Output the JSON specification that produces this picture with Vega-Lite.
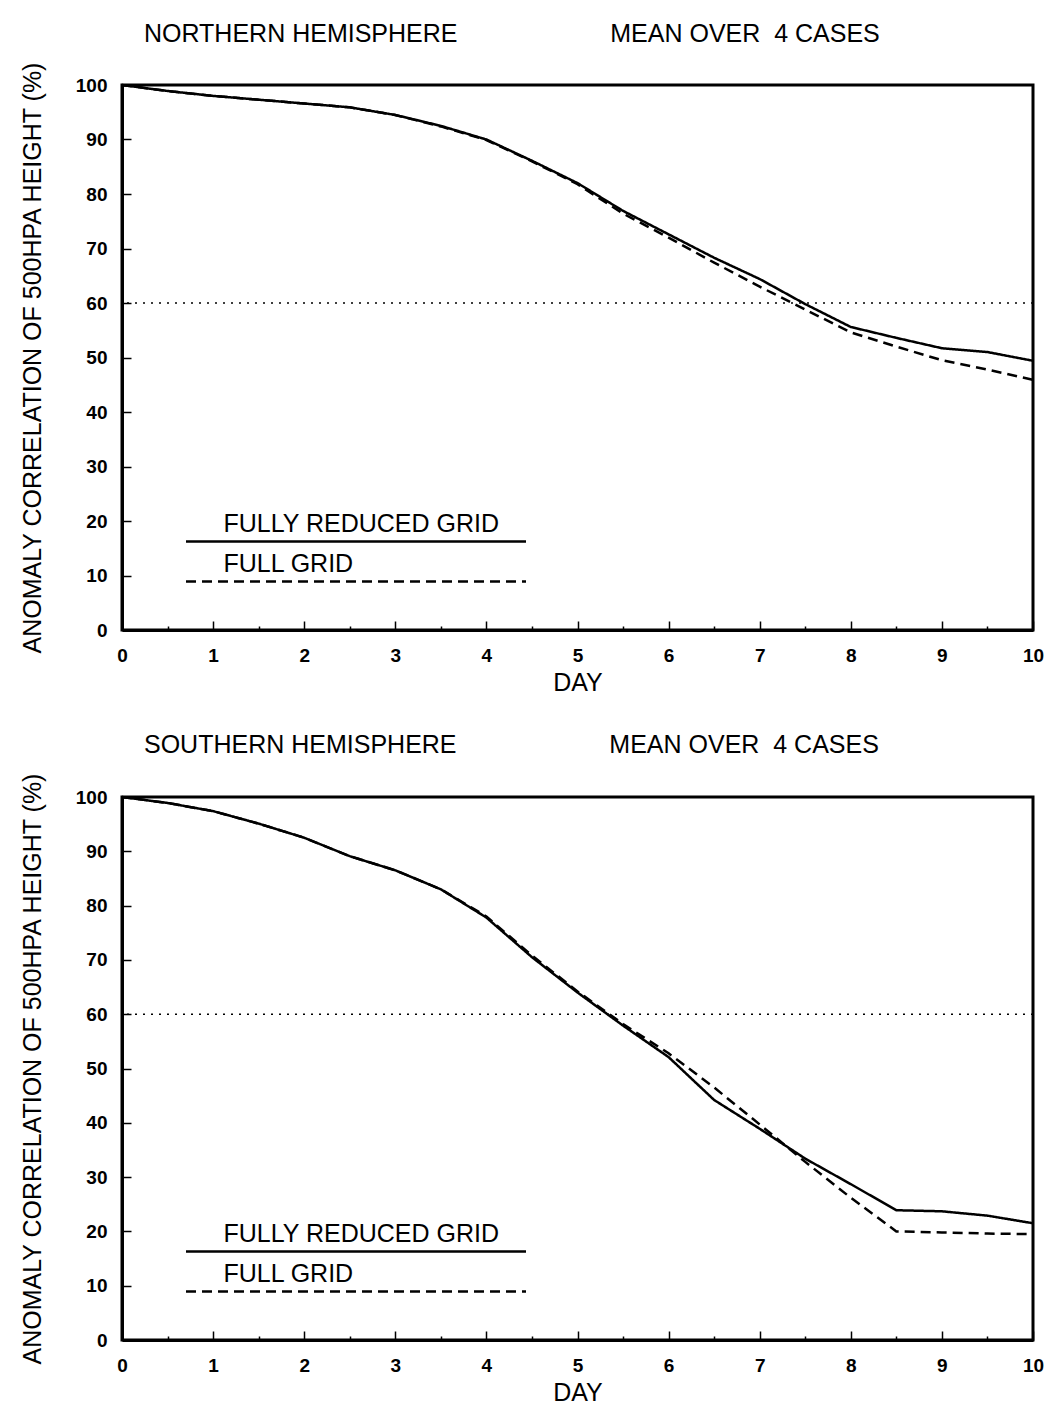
{
  "$schema": "https://vega.github.io/schema/vega-lite/v6.json",
  "background": "white",
  "padding": {"left": 18, "top": 20, "right": 5, "bottom": 0},
  "spacing": 34,
  "config": {
    "font": "Liberation Sans",
    "view": {"stroke": "black", "strokeWidth": 3},
    "title": {"color": "black"},
    "axis": {"labelColor": "black", "titleColor": "black", "domainColor": "black", "tickColor": "black"}
  },
  "datasets": {
    "north": [
      {"day": 0, "value": 100, "grid": "FULLY REDUCED GRID"},
      {"day": 0.5, "value": 98.9, "grid": "FULLY REDUCED GRID"},
      {"day": 1, "value": 98.0, "grid": "FULLY REDUCED GRID"},
      {"day": 1.5, "value": 97.3, "grid": "FULLY REDUCED GRID"},
      {"day": 2, "value": 96.6, "grid": "FULLY REDUCED GRID"},
      {"day": 2.5, "value": 95.9, "grid": "FULLY REDUCED GRID"},
      {"day": 3, "value": 94.5, "grid": "FULLY REDUCED GRID"},
      {"day": 3.5, "value": 92.5, "grid": "FULLY REDUCED GRID"},
      {"day": 4, "value": 90.0, "grid": "FULLY REDUCED GRID"},
      {"day": 4.5, "value": 86.1, "grid": "FULLY REDUCED GRID"},
      {"day": 5, "value": 82.0, "grid": "FULLY REDUCED GRID"},
      {"day": 5.5, "value": 76.9, "grid": "FULLY REDUCED GRID"},
      {"day": 6, "value": 72.6, "grid": "FULLY REDUCED GRID"},
      {"day": 6.5, "value": 68.3, "grid": "FULLY REDUCED GRID"},
      {"day": 7, "value": 64.4, "grid": "FULLY REDUCED GRID"},
      {"day": 7.5, "value": 59.8, "grid": "FULLY REDUCED GRID"},
      {"day": 8, "value": 55.6, "grid": "FULLY REDUCED GRID"},
      {"day": 8.5, "value": 53.6, "grid": "FULLY REDUCED GRID"},
      {"day": 9, "value": 51.7, "grid": "FULLY REDUCED GRID"},
      {"day": 9.5, "value": 51.0, "grid": "FULLY REDUCED GRID"},
      {"day": 10, "value": 49.4, "grid": "FULLY REDUCED GRID"},
      {"day": 0, "value": 100, "grid": "FULL GRID"},
      {"day": 0.5, "value": 98.9, "grid": "FULL GRID"},
      {"day": 1, "value": 98.0, "grid": "FULL GRID"},
      {"day": 1.5, "value": 97.3, "grid": "FULL GRID"},
      {"day": 2, "value": 96.6, "grid": "FULL GRID"},
      {"day": 2.5, "value": 95.9, "grid": "FULL GRID"},
      {"day": 3, "value": 94.5, "grid": "FULL GRID"},
      {"day": 3.5, "value": 92.4, "grid": "FULL GRID"},
      {"day": 4, "value": 89.9, "grid": "FULL GRID"},
      {"day": 4.5, "value": 86.0, "grid": "FULL GRID"},
      {"day": 5, "value": 81.8, "grid": "FULL GRID"},
      {"day": 5.5, "value": 76.4, "grid": "FULL GRID"},
      {"day": 6, "value": 72.0, "grid": "FULL GRID"},
      {"day": 6.5, "value": 67.4, "grid": "FULL GRID"},
      {"day": 7, "value": 63.0, "grid": "FULL GRID"},
      {"day": 7.5, "value": 58.8, "grid": "FULL GRID"},
      {"day": 8, "value": 54.6, "grid": "FULL GRID"},
      {"day": 8.5, "value": 52.0, "grid": "FULL GRID"},
      {"day": 9, "value": 49.5, "grid": "FULL GRID"},
      {"day": 9.5, "value": 47.8, "grid": "FULL GRID"},
      {"day": 10, "value": 45.9, "grid": "FULL GRID"}
    ],
    "south": [
      {"day": 0, "value": 100, "grid": "FULLY REDUCED GRID"},
      {"day": 0.5, "value": 98.9, "grid": "FULLY REDUCED GRID"},
      {"day": 1, "value": 97.4, "grid": "FULLY REDUCED GRID"},
      {"day": 1.5, "value": 95.1, "grid": "FULLY REDUCED GRID"},
      {"day": 2, "value": 92.5, "grid": "FULLY REDUCED GRID"},
      {"day": 2.5, "value": 89.1, "grid": "FULLY REDUCED GRID"},
      {"day": 3, "value": 86.5, "grid": "FULLY REDUCED GRID"},
      {"day": 3.5, "value": 83.0, "grid": "FULLY REDUCED GRID"},
      {"day": 4, "value": 77.8, "grid": "FULLY REDUCED GRID"},
      {"day": 4.5, "value": 70.5, "grid": "FULLY REDUCED GRID"},
      {"day": 5, "value": 64.0, "grid": "FULLY REDUCED GRID"},
      {"day": 5.5, "value": 57.9, "grid": "FULLY REDUCED GRID"},
      {"day": 6, "value": 52.1, "grid": "FULLY REDUCED GRID"},
      {"day": 6.5, "value": 44.2, "grid": "FULLY REDUCED GRID"},
      {"day": 7, "value": 38.9, "grid": "FULLY REDUCED GRID"},
      {"day": 7.5, "value": 33.4, "grid": "FULLY REDUCED GRID"},
      {"day": 8, "value": 28.7, "grid": "FULLY REDUCED GRID"},
      {"day": 8.5, "value": 23.9, "grid": "FULLY REDUCED GRID"},
      {"day": 9, "value": 23.7, "grid": "FULLY REDUCED GRID"},
      {"day": 9.5, "value": 22.9, "grid": "FULLY REDUCED GRID"},
      {"day": 10, "value": 21.5, "grid": "FULLY REDUCED GRID"},
      {"day": 0, "value": 100, "grid": "FULL GRID"},
      {"day": 0.5, "value": 98.9, "grid": "FULL GRID"},
      {"day": 1, "value": 97.4, "grid": "FULL GRID"},
      {"day": 1.5, "value": 95.1, "grid": "FULL GRID"},
      {"day": 2, "value": 92.5, "grid": "FULL GRID"},
      {"day": 2.5, "value": 89.1, "grid": "FULL GRID"},
      {"day": 3, "value": 86.5, "grid": "FULL GRID"},
      {"day": 3.5, "value": 83.0, "grid": "FULL GRID"},
      {"day": 4, "value": 78.0, "grid": "FULL GRID"},
      {"day": 4.5, "value": 70.8, "grid": "FULL GRID"},
      {"day": 5, "value": 64.2, "grid": "FULL GRID"},
      {"day": 5.5, "value": 58.2, "grid": "FULL GRID"},
      {"day": 6, "value": 52.8, "grid": "FULL GRID"},
      {"day": 6.5, "value": 46.5, "grid": "FULL GRID"},
      {"day": 7, "value": 39.7, "grid": "FULL GRID"},
      {"day": 7.5, "value": 32.8, "grid": "FULL GRID"},
      {"day": 8, "value": 26.2, "grid": "FULL GRID"},
      {"day": 8.5, "value": 20.0, "grid": "FULL GRID"},
      {"day": 9, "value": 19.8, "grid": "FULL GRID"},
      {"day": 9.5, "value": 19.6, "grid": "FULL GRID"},
      {"day": 10, "value": 19.5, "grid": "FULL GRID"}
    ],
    "reference": [{"threshold": 60}]
  },
  "vconcat": [
    {
      "width": 911,
      "height": 545,
      "title": {
        "text": "NORTHERN HEMISPHERE\u00a0\u00a0\u00a0\u00a0\u00a0\u00a0\u00a0\u00a0\u00a0\u00a0\u00a0\u00a0\u00a0\u00a0\u00a0\u00a0\u00a0\u00a0\u00a0\u00a0\u00a0\u00a0MEAN OVER\u00a0\u00a04 CASES",
        "anchor": "start",
        "frame": "group",
        "dx": 22,
        "offset": -6,
        "baseline": "alphabetic",
        "fontSize": 25,
        "fontWeight": "normal",
        "font": "Liberation Sans"
      },
      "layer": [
        {
          "data": {"name": "reference"},
          "mark": {"type": "rule", "color": "black", "strokeWidth": 1.5, "strokeDash": [2, 6]},
          "encoding": {
            "y": {"field": "threshold", "type": "quantitative", "scale": {"domain": [0, 100], "nice": false}}
          }
        },
        {
          "data": {"name": "north"},
          "mark": {"type": "line", "color": "black", "strokeWidth": 2.5},
          "encoding": {
            "x": {
              "field": "day", "type": "quantitative",
              "scale": {"domain": [0, 10], "nice": false},
              "axis": {
                "title": "DAY",
                "values": [0, 0.5, 1, 1.5, 2, 2.5, 3, 3.5, 4, 4.5, 5, 5.5, 6, 6.5, 7, 7.5, 8, 8.5, 9, 9.5, 10],
                "labelExpr": "datum.value % 1 === 0 ? '' + datum.value : ''",
                "tickSize": {"condition": {"test": "datum.value % 1 !== 0", "value": -4}, "value": -9},
                "tickWidth": 1.5,
                "grid": false,
                "domainWidth": 3,
                "labelFlush": false,
                "labelOverlap": false,
                "labelFontSize": 19,
                "labelFontWeight": "bold",
                "labelPadding": 25,
                "titleFontSize": 25,
                "titleFontWeight": "normal",
                "titlePadding": 0
              }
            },
            "y": {
              "field": "value", "type": "quantitative",
              "scale": {"domain": [0, 100], "nice": false},
              "axis": {
                "title": "ANOMALY CORRELATION OF 500HPA HEIGHT (%)",
                "values": [0, 5, 10, 15, 20, 25, 30, 35, 40, 45, 50, 55, 60, 65, 70, 75, 80, 85, 90, 95, 100],
                "labelExpr": "datum.value % 10 === 0 ? '' + datum.value : ''",
                "tickSize": {"condition": {"test": "datum.value % 10 !== 0", "value": -5}, "value": -9},
                "tickWidth": 1.5,
                "grid": false,
                "domainWidth": 3,
                "labelFlush": false,
                "labelOverlap": false,
                "labelFontSize": 19,
                "labelFontWeight": "bold",
                "labelPadding": 24,
                "titleFontSize": 25,
                "titleFontWeight": "normal",
                "titlePadding": 30
              }
            },
            "strokeDash": {
              "field": "grid", "type": "nominal",
              "scale": {"domain": ["FULLY REDUCED GRID", "FULL GRID"], "range": [[1, 0], [10, 6]]},
              "legend": {
                "orient": "none",
                "legendX": 221.5,
                "legendY": 434.6,
                "title": null,
                "padding": 0,
                "symbolType": "M-20,1.1H20",
                "symbolSize": 289,
                "symbolStrokeWidth": 2.5,
                "symbolStrokeColor": "black",
                "labelFontSize": 25,
                "labelFont": "Liberation Sans",
                "labelColor": "black",
                "labelOffset": -145,
                "labelBaseline": "alphabetic",
                "labelLimit": 0,
                "rowPadding": 5
              }
            }
          }
        }
      ]
    },
    {
      "width": 911,
      "height": 543,
      "title": {
        "text": "SOUTHERN HEMISPHERE\u00a0\u00a0\u00a0\u00a0\u00a0\u00a0\u00a0\u00a0\u00a0\u00a0\u00a0\u00a0\u00a0\u00a0\u00a0\u00a0\u00a0\u00a0\u00a0\u00a0\u00a0\u00a0MEAN OVER\u00a0\u00a04 CASES",
        "anchor": "start",
        "frame": "group",
        "dx": 22,
        "offset": -6,
        "baseline": "alphabetic",
        "fontSize": 25,
        "fontWeight": "normal",
        "font": "Liberation Sans"
      },
      "layer": [
        {
          "data": {"name": "reference"},
          "mark": {"type": "rule", "color": "black", "strokeWidth": 1.5, "strokeDash": [2, 6]},
          "encoding": {
            "y": {"field": "threshold", "type": "quantitative", "scale": {"domain": [0, 100], "nice": false}}
          }
        },
        {
          "data": {"name": "south"},
          "mark": {"type": "line", "color": "black", "strokeWidth": 2.5},
          "encoding": {
            "x": {
              "field": "day", "type": "quantitative",
              "scale": {"domain": [0, 10], "nice": false},
              "axis": {
                "title": "DAY",
                "values": [0, 0.5, 1, 1.5, 2, 2.5, 3, 3.5, 4, 4.5, 5, 5.5, 6, 6.5, 7, 7.5, 8, 8.5, 9, 9.5, 10],
                "labelExpr": "datum.value % 1 === 0 ? '' + datum.value : ''",
                "tickSize": {"condition": {"test": "datum.value % 1 !== 0", "value": -4}, "value": -9},
                "tickWidth": 1.5,
                "grid": false,
                "domainWidth": 3,
                "labelFlush": false,
                "labelOverlap": false,
                "labelFontSize": 19,
                "labelFontWeight": "bold",
                "labelPadding": 25,
                "titleFontSize": 25,
                "titleFontWeight": "normal",
                "titlePadding": 0
              }
            },
            "y": {
              "field": "value", "type": "quantitative",
              "scale": {"domain": [0, 100], "nice": false},
              "axis": {
                "title": "ANOMALY CORRELATION OF 500HPA HEIGHT (%)",
                "values": [0, 5, 10, 15, 20, 25, 30, 35, 40, 45, 50, 55, 60, 65, 70, 75, 80, 85, 90, 95, 100],
                "labelExpr": "datum.value % 10 === 0 ? '' + datum.value : ''",
                "tickSize": {"condition": {"test": "datum.value % 10 !== 0", "value": -5}, "value": -9},
                "tickWidth": 1.5,
                "grid": false,
                "domainWidth": 3,
                "labelFlush": false,
                "labelOverlap": false,
                "labelFontSize": 19,
                "labelFontWeight": "bold",
                "labelPadding": 24,
                "titleFontSize": 25,
                "titleFontWeight": "normal",
                "titlePadding": 30
              }
            },
            "strokeDash": {
              "field": "grid", "type": "nominal",
              "scale": {"domain": ["FULLY REDUCED GRID", "FULL GRID"], "range": [[1, 0], [10, 6]]},
              "legend": {
                "orient": "none",
                "legendX": 221.5,
                "legendY": 432.6,
                "title": null,
                "padding": 0,
                "symbolType": "M-20,1.1H20",
                "symbolSize": 289,
                "symbolStrokeWidth": 2.5,
                "symbolStrokeColor": "black",
                "labelFontSize": 25,
                "labelFont": "Liberation Sans",
                "labelColor": "black",
                "labelOffset": -145,
                "labelBaseline": "alphabetic",
                "labelLimit": 0,
                "rowPadding": 5
              }
            }
          }
        }
      ]
    }
  ],
  "resolve": {"scale": {"strokeDash": "independent"}, "legend": {"strokeDash": "independent"}}
}
